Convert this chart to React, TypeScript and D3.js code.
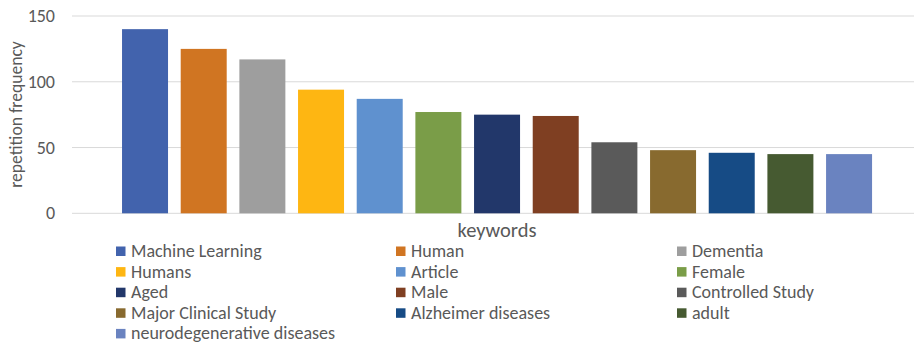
import React from "react";
import * as d3 from "d3";

const keywords = [
  "Machine Learning",
  "Human",
  "Dementia",
  "Humans",
  "Article",
  "Female",
  "Aged",
  "Male",
  "Controlled Study",
  "Major Clinical Study",
  "Alzheimer diseases",
  "adult",
  "neurodegenerative diseases",
];

const frequencies = [140, 125, 117, 94, 87, 77, 75, 74, 54, 48, 46, 45, 45];

const barColors = [
  "#4263AD",
  "#D07522",
  "#9E9E9E",
  "#FEB612",
  "#5F91CF",
  "#7A9D48",
  "#22376A",
  "#7F3F22",
  "#5A5A5A",
  "#886A2F",
  "#164B85",
  "#465A31",
  "#6A83C0",
];

const yTicks = [0, 50, 100, 150];

const W = 914;
const H = 344;
const FONT = "Carlito, Calibri, Lato, 'Open Sans', sans-serif";
const TEXT = "#595959";

export default function App() {
  const y = d3.scaleLinear().domain([0, 150]).range([213.3, 16]);
  const x = d3
    .scaleBand<string>()
    .domain(keywords)
    .range([115.7, 878.4])
    .paddingInner(0.216)
    .paddingOuter(0.108);

  const colX = [116, 396, 677];
  const rowY0 = 251;
  const rowStep = 20.6;

  return (
    <svg
      width={W}
      height={H}
      style={{ position: "absolute", left: 0, top: 0, background: "#fff" }}
      fontFamily={FONT}
    >
      {/* gridlines */}
      {yTicks.map((t) => (
        <line
          key={t}
          x1={72}
          x2={914}
          y1={y(t)}
          y2={y(t)}
          stroke="#D9D9D9"
          strokeWidth={1}
        />
      ))}
      {/* tick labels */}
      {yTicks.map((t) => (
        <text
          key={"l" + t}
          x={55}
          y={y(t)}
          textAnchor="end"
          dominantBaseline="central"
          fontSize={18}
          fill={TEXT}
        >
          {t}
        </text>
      ))}
      {/* bars */}
      {keywords.map((k, i) => (
        <rect
          key={k}
          x={x(k)}
          y={y(frequencies[i])}
          width={x.bandwidth()}
          height={y(0) - y(frequencies[i])}
          fill={barColors[i]}
        />
      ))}
      {/* axis titles */}
      <text
        transform={`translate(16,114.5) rotate(-90)`}
        textAnchor="middle"
        dominantBaseline="central"
        fontSize={17.6}
        fill={TEXT}
      >
        repetition frequency
      </text>
      <text
        x={497}
        y={230}
        textAnchor="middle"
        dominantBaseline="central"
        fontSize={20.5}
        fill={TEXT}
      >
        keywords
      </text>
      {/* legend */}
      {keywords.map((k, i) => {
        const cx = colX[i % 3];
        const cy = rowY0 + Math.floor(i / 3) * rowStep;
        return (
          <g key={"lg" + k}>
            <rect x={cx} y={cy - 4.5} width={9.5} height={9.5} fill={barColors[i]} />
            <text
              x={cx + 15}
              y={cy}
              dominantBaseline="central"
              fontSize={18}
              fill={TEXT}
            >
              {k}
            </text>
          </g>
        );
      })}
    </svg>
  );
}
